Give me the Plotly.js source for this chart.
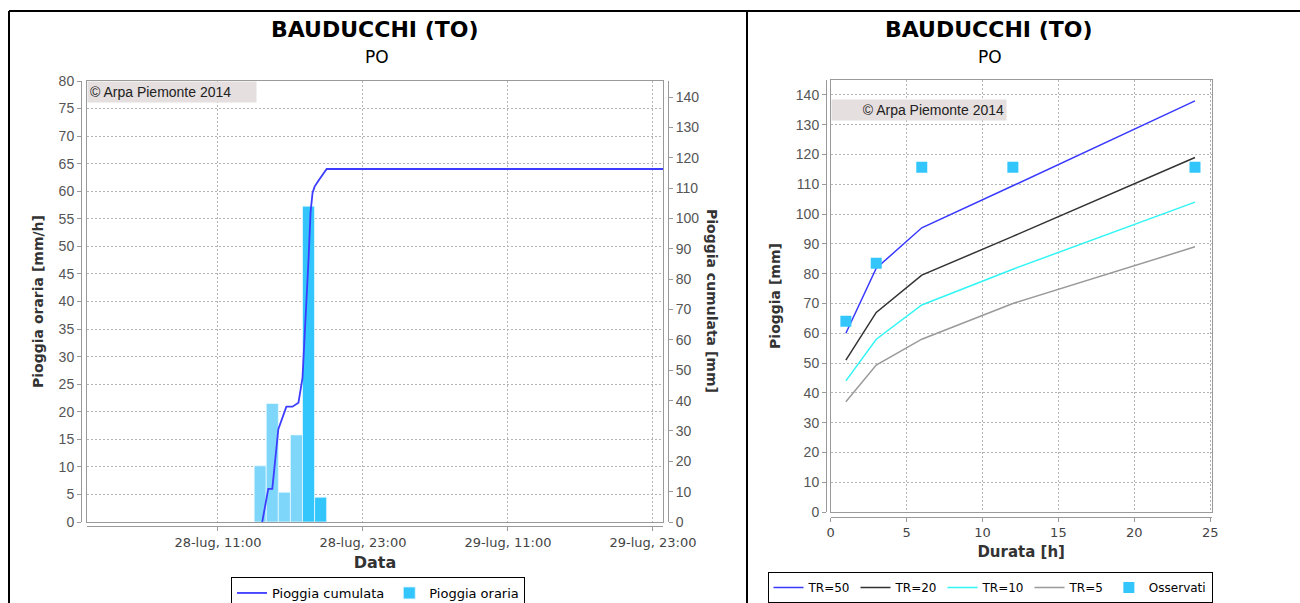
<!DOCTYPE html>
<html>
<head>
<meta charset="utf-8">
<script src="https://cdn.plot.ly/plotly-3.0.1.min.js"></script>
<style>
  html, body { margin: 0; padding: 0; background: #ffffff; }
  #chart { width: 1300px; height: 603px; }
</style>
</head>
<body>
<div id="chart"></div>
<script>
// ---------------- DATA ----------------
// Left chart: hourly rain (bars) and cumulative rain (line)
const barTimes = ['2014-07-28 14:30', '2014-07-28 15:30', '2014-07-28 16:30', '2014-07-28 17:30', '2014-07-28 18:30', '2014-07-28 19:30'];
const hourlyRain = [10.2, 21.5, 5.4, 15.8, 57.3, 4.5];

const cumTimes = ['2014-07-28 14:40', '2014-07-28 15:10', '2014-07-28 15:30', '2014-07-28 16:00', '2014-07-28 16:40',
                  '2014-07-28 17:10', '2014-07-28 17:40', '2014-07-28 18:00', '2014-07-28 18:30', '2014-07-28 18:40',
                  '2014-07-28 18:50', '2014-07-28 19:00', '2014-07-28 19:20', '2014-07-28 20:00', '2014-07-29 23:50'];
const cumRain = [0, 10.9, 10.9, 30.6, 38, 38, 39.3, 47.5, 86.5, 102, 108.5, 110.5, 112.5, 116.3, 116.3];

const dateTickVals = ['2014-07-28 11:00', '2014-07-28 23:00', '2014-07-29 11:00', '2014-07-29 23:00'];
const dateTickText = ['28-lug, 11:00', '28-lug, 23:00', '29-lug, 11:00', '29-lug, 23:00'];
const dateRange = ['2014-07-28 00:10', '2014-07-29 23:50'];

// Right chart: depth-duration curves and observed maxima
const durations = [1, 3, 6, 12, 24];
const tr50 = [60, 81.8, 95.4, 109.5, 138];
const tr20 = [51, 67, 79.5, 92.5, 119];
const tr10 = [44, 58, 69.5, 81.5, 104];
const tr5 = [37, 49.3, 58, 70, 89];
const observed = [64, 83.5, 115.7, 115.7, 115.7];

const stationTitle = 'BAUDUCCHI (TO)';
const basinName = 'PO';
const copyrightText = '© Arpa Piemonte 2014';

// ---------------- HELPERS ----------------
const W = 1300, H = 603;
const px = v => v / W;          // pixel x -> paper
const py = v => 1 - v / H;      // pixel y -> paper

const gridColor = '#b4b4b4';
const axisColor = '#9a9a9a';
const tickFontNum = { family: 'Liberation Sans, Arial, sans-serif', size: 14, color: '#555555' };
const tickFontTxt = { family: 'DejaVu Sans, sans-serif', size: 13, color: '#444444' };
const axisTitleFont = { family: 'DejaVu Sans, sans-serif', size: 14, color: '#333333' };

const lightIdx = [0, 1, 2, 3];
const darkIdx = [4, 5];
const pick = (arr, idx) => idx.map(i => arr[i]);

const steps = (a, b, s) => { const out = []; for (let v = a; v <= b + 1e-9; v += s) out.push(v); return out; };

// ---------------- TRACES ----------------
const traces = [
  {
    type: 'scatter', mode: 'lines', name: 'Pioggia cumulata',
    x: cumTimes, y: cumRain, xaxis: 'x', yaxis: 'y2',
    line: { color: '#3d3dff', width: 1.8 }, legend: 'legend'
  },
  {
    type: 'bar', name: 'Pioggia oraria (a)', showlegend: false, legendgroup: 'bars',
    x: pick(barTimes, lightIdx), y: pick(hourlyRain, lightIdx), xaxis: 'x', yaxis: 'y',
    width: 3600000,
    marker: { color: '#7ed7fb', line: { color: '#e8f8ff', width: 0.8 } }, legend: 'legend'
  },
  {
    type: 'bar', name: 'Pioggia oraria', legendgroup: 'bars',
    x: pick(barTimes, darkIdx), y: pick(hourlyRain, darkIdx), xaxis: 'x', yaxis: 'y',
    width: 3600000,
    marker: { color: '#33c6fd', line: { color: '#e8f8ff', width: 0.8 } }, legend: 'legend'
  },
  { type: 'scatter', x: [], y: [], xaxis: 'x3', yaxis: 'y3', showlegend: false, hoverinfo: 'skip' },

  { type: 'scatter', mode: 'lines', name: 'TR=50', x: durations, y: tr50, xaxis: 'x4', yaxis: 'y4',
    line: { color: '#3a3aff', width: 1.5 }, legend: 'legend2' },
  { type: 'scatter', mode: 'lines', name: 'TR=20', x: durations, y: tr20, xaxis: 'x4', yaxis: 'y4',
    line: { color: '#333333', width: 1.5 }, legend: 'legend2' },
  { type: 'scatter', mode: 'lines', name: 'TR=10', x: durations, y: tr10, xaxis: 'x4', yaxis: 'y4',
    line: { color: '#33f5f5', width: 1.5 }, legend: 'legend2' },
  { type: 'scatter', mode: 'lines', name: 'TR=5', x: durations, y: tr5, xaxis: 'x4', yaxis: 'y4',
    line: { color: '#9a9a9a', width: 1.5 }, legend: 'legend2' },
  { type: 'scatter', mode: 'markers', name: 'Osservati', x: durations, y: observed, xaxis: 'x4', yaxis: 'y4',
    marker: { symbol: 'square', size: 11, color: '#33c6fd' }, legend: 'legend2' },
  { type: 'scatter', x: [], y: [], xaxis: 'x5', yaxis: 'y5', showlegend: false, hoverinfo: 'skip' }
];

// ---------------- LAYOUT ----------------
const leftX = [px(87), px(663)];
const leftY = [py(522), py(81)];
const rightX = [px(830.7), px(1211.7)];
const rightY = [py(512), py(80)];

const mainAxis = (extra) => Object.assign({
  showticklabels: false, ticks: '', showgrid: true, gridcolor: gridColor, griddash: '2px,2px', gridwidth: 1,
  showline: true, mirror: true, linecolor: axisColor, linewidth: 1, zeroline: false, fixedrange: true, automargin: false
}, extra);

const freeAxis = (extra) => Object.assign({
  showgrid: false, zeroline: false, showline: true, linecolor: axisColor, linewidth: 1,
  ticks: 'outside', ticklen: 4, tickcolor: axisColor, anchor: 'free', fixedrange: true, automargin: false
}, extra);

const layout = {
  width: W, height: H,
  margin: { l: 0, r: 0, t: 0, b: 0, pad: 0, autoexpand: false },
  paper_bgcolor: '#ffffff', plot_bgcolor: '#ffffff',
  showlegend: true,
  barmode: 'overlay',
  font: { family: 'DejaVu Sans, sans-serif', color: '#000000' },

  // ----- left chart -----
  xaxis: mainAxis({ domain: leftX, type: 'date', range: dateRange, tickvals: dateTickVals, anchor: 'y' }),
  yaxis: mainAxis({ domain: leftY, range: [0, 80], tickvals: steps(0, 80, 5), anchor: 'x' }),
  yaxis2: freeAxis({
    overlaying: 'y', side: 'right', position: px(668), range: [0, 145.3],
    tickvals: steps(0, 140, 10), tickfont: tickFontNum
  }),
  xaxis3: freeAxis({
    overlaying: 'x', type: 'date', range: dateRange, position: py(526), side: 'bottom',
    tickvals: dateTickVals, ticktext: dateTickText, tickfont: tickFontTxt,
    title: { text: '<b>Data</b>', font: { family: 'DejaVu Sans, sans-serif', size: 16, color: '#333333' }, standoff: 8 }
  }),
  yaxis3: freeAxis({
    overlaying: 'y', side: 'left', position: px(81), range: [0, 80],
    tickvals: steps(0, 80, 5), tickfont: tickFontNum,
    title: { text: '<b>Pioggia oraria [mm/h]</b>', font: axisTitleFont, standoff: 10 }
  }),

  // ----- right chart -----
  xaxis4: mainAxis({ domain: rightX, range: [0, 25.1], tickvals: steps(0, 25, 5), anchor: 'y4' }),
  yaxis4: mainAxis({ domain: rightY, range: [0, 145], tickvals: steps(0, 140, 10), anchor: 'x4' }),
  xaxis5: freeAxis({
    overlaying: 'x4', range: [0, 25.1], position: py(516.7), side: 'bottom',
    tickvals: steps(0, 25, 5), tickfont: tickFontTxt,
    title: { text: '<b>Durata [h]</b>', font: { family: 'DejaVu Sans, sans-serif', size: 15, color: '#333333' }, standoff: 7 }
  }),
  yaxis5: freeAxis({
    overlaying: 'y4', side: 'left', position: px(826), range: [0, 145],
    tickvals: steps(0, 140, 10), tickfont: tickFontNum,
    title: { text: '<b>Pioggia [mm]</b>', font: axisTitleFont, standoff: 10 }
  }),

  legend: {
    orientation: 'h', x: px(378), xanchor: 'center', y: py(577), yanchor: 'top',
    bordercolor: '#000000', borderwidth: 1, bgcolor: '#ffffff',
    font: { family: 'DejaVu Sans, sans-serif', size: 13, color: '#000000' },
    itemwidth: 30, traceorder: 'normal'
  },
  legend2: {
    orientation: 'h', x: px(990), xanchor: 'center', y: py(572), yanchor: 'top',
    bordercolor: '#000000', borderwidth: 1, bgcolor: '#ffffff',
    font: { family: 'DejaVu Sans, sans-serif', size: 12, color: '#000000' },
    itemwidth: 30, traceorder: 'normal'
  },

  annotations: [
    { xref: 'paper', yref: 'paper', x: px(374), y: py(29), xanchor: 'center', yanchor: 'middle', showarrow: false,
      text: '<b>' + stationTitle + '</b>', font: { family: 'DejaVu Sans, sans-serif', size: 22, color: '#000000' } },
    { xref: 'paper', yref: 'paper', x: px(377), y: py(57), xanchor: 'center', yanchor: 'middle', showarrow: false,
      text: basinName, font: { family: 'DejaVu Sans, sans-serif', size: 17, color: '#000000' } },
    { xref: 'paper', yref: 'paper', x: px(988), y: py(29), xanchor: 'center', yanchor: 'middle', showarrow: false,
      text: '<b>' + stationTitle + '</b>', font: { family: 'DejaVu Sans, sans-serif', size: 22, color: '#000000' } },
    { xref: 'paper', yref: 'paper', x: px(990), y: py(57), xanchor: 'center', yanchor: 'middle', showarrow: false,
      text: basinName, font: { family: 'DejaVu Sans, sans-serif', size: 17, color: '#000000' } },
    { xref: 'paper', yref: 'paper', x: px(712), y: py(301), xanchor: 'center', yanchor: 'middle', showarrow: false,
      textangle: 90, text: '<b>Pioggia cumulata [mm]</b>', font: axisTitleFont },
    { xref: 'paper', yref: 'paper', x: px(87), y: py(81), xanchor: 'left', yanchor: 'top', showarrow: false,
      text: copyrightText, bgcolor: '#e6dfdf', borderpad: 2, width: 164, align: 'left',
      font: { family: 'Liberation Sans, Arial, sans-serif', size: 14, color: '#222222' } },
    { xref: 'paper', yref: 'paper', x: px(831), y: py(99), xanchor: 'left', yanchor: 'top', showarrow: false,
      text: copyrightText, bgcolor: '#e6dfdf', borderpad: 2, width: 170, align: 'right',
      font: { family: 'Liberation Sans, Arial, sans-serif', size: 14, color: '#222222' } }
  ],

  shapes: [
    { type: 'line', xref: 'paper', yref: 'paper', x0: px(9), x1: 1, y0: py(11), y1: py(11), line: { color: '#000000', width: 2 } },
    { type: 'line', xref: 'paper', yref: 'paper', x0: px(9), x1: px(9), y0: 0, y1: py(11), line: { color: '#000000', width: 2 } },
    { type: 'line', xref: 'paper', yref: 'paper', x0: px(747), x1: px(747), y0: 0, y1: py(11), line: { color: '#000000', width: 2 } }
  ]
};

Plotly.newPlot('chart', traces, layout, { displayModeBar: false, staticPlot: true });
</script>
</body>
</html>
